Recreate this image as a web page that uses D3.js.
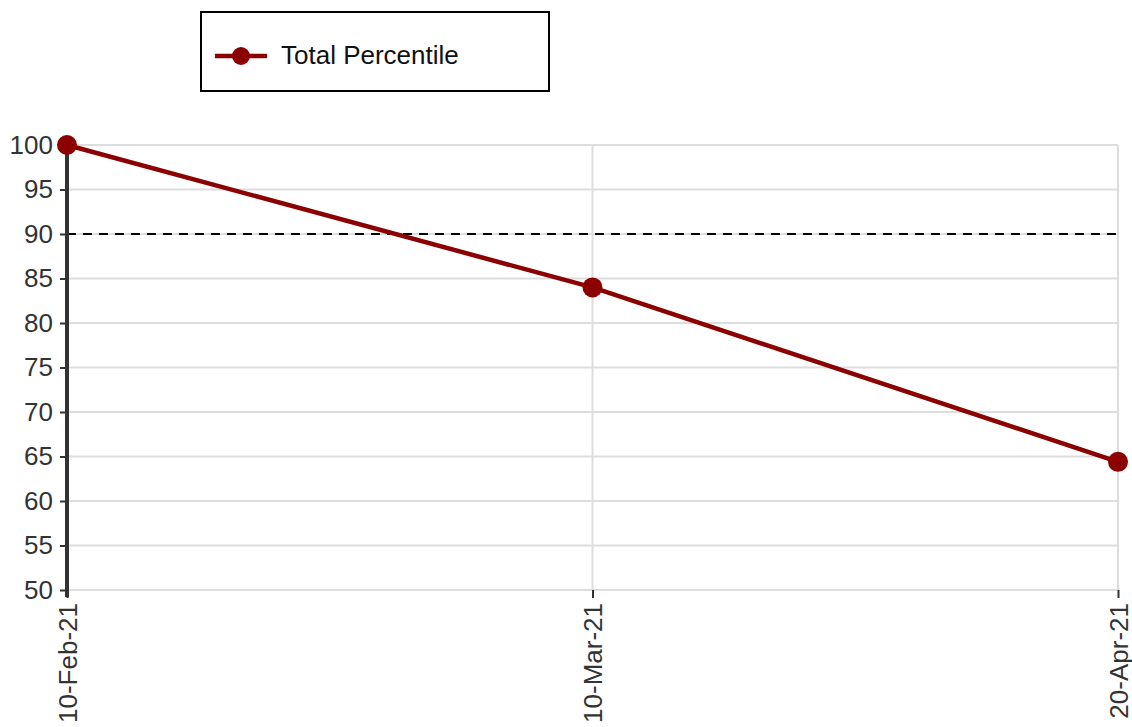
<!DOCTYPE html>
<html>
<head>
<meta charset="utf-8">
<script src="https://cdn.jsdelivr.net/npm/d3@7"></script>
<style>
  html, body { margin: 0; padding: 0; background: #fff; }
  svg { display: block; font-family: "Liberation Sans", Arial, sans-serif; }
</style>
</head>
<body>
<svg id="chart" width="1132" height="727"></svg>
<script>
const categories = ["10-Feb-21", "10-Mar-21", "20-Apr-21"];
const totalPercentile = [100, 84, 64.4];
const threshold = 90;
const yTicks = [50, 55, 60, 65, 70, 75, 80, 85, 90, 95, 100];
const seriesName = "Total Percentile";

(function () {
const svg = d3.select("#chart");
const mLeft = 67, mRight = 1118, mTop = 145, mBottom = 590;
const color = "#8B0000";
const fs = 26;

const x = d3.scalePoint().domain(categories).range([mLeft, mRight]).padding(0);
const y = d3.scaleLinear().domain([50, 100]).range([mBottom, mTop]);

// horizontal grid
svg.append("g").selectAll("line").data(yTicks).join("line")
  .attr("x1", mLeft).attr("x2", mRight)
  .attr("y1", d => y(d)).attr("y2", d => y(d))
  .attr("stroke", "#dddddd").attr("stroke-width", 2);

// vertical grid
svg.append("g").selectAll("line").data(categories).join("line")
  .attr("x1", d => x(d)).attr("x2", d => x(d))
  .attr("y1", mTop).attr("y2", mBottom)
  .attr("stroke", "#dddddd").attr("stroke-width", 2);

// x axis (ticks and rotated labels, no domain line)
const xAxis = svg.append("g").attr("transform", `translate(0,${mBottom})`)
  .call(d3.axisBottom(x).tickSize(8).tickSizeOuter(0));
xAxis.select(".domain").remove();
xAxis.selectAll(".tick line").attr("stroke", "#333").attr("stroke-width", 2);
xAxis.selectAll(".tick text")
  .attr("font-size", fs).attr("fill", "#333")
  .attr("font-family", "Liberation Sans, Arial, sans-serif")
  .attr("text-anchor", "end")
  .attr("transform", "rotate(-90)")
  .attr("x", -13).attr("y", 0).attr("dy", "0.35em");

// threshold dashed line
svg.append("line")
  .attr("x1", mLeft).attr("x2", mRight)
  .attr("y1", y(threshold)).attr("y2", y(threshold))
  .attr("stroke", "#000").attr("stroke-width", 2)
  .attr("stroke-dasharray", "9,7");

// y axis
const yAxis = svg.append("g").attr("transform", `translate(${mLeft},0)`)
  .call(d3.axisLeft(y).tickValues(yTicks).tickSize(7).tickSizeOuter(0).tickPadding(7));
yAxis.select(".domain").remove();
yAxis.selectAll(".tick line").attr("stroke", "#333").attr("stroke-width", 2);
yAxis.selectAll(".tick text")
  .attr("font-size", fs).attr("fill", "#333")
  .attr("font-family", "Liberation Sans, Arial, sans-serif");
svg.append("line")
  .attr("x1", mLeft).attr("x2", mLeft)
  .attr("y1", mTop).attr("y2", mBottom + 7)
  .attr("stroke", "#333").attr("stroke-width", 4);

// series line
const line = d3.line().x((d, i) => x(categories[i])).y(d => y(d));
svg.append("path").datum(totalPercentile)
  .attr("d", line).attr("fill", "none")
  .attr("stroke", color).attr("stroke-width", 4.5);
svg.append("g").selectAll("circle").data(totalPercentile).join("circle")
  .attr("cx", (d, i) => x(categories[i])).attr("cy", d => y(d))
  .attr("r", 10).attr("fill", color);

// legend
const lg = svg.append("g");
lg.append("rect").attr("x", 201).attr("y", 12).attr("width", 348).attr("height", 79)
  .attr("fill", "#fff").attr("stroke", "#000").attr("stroke-width", 2);
lg.append("line").attr("x1", 215).attr("x2", 267).attr("y1", 56).attr("y2", 56)
  .attr("stroke", color).attr("stroke-width", 4.5);
lg.append("circle").attr("cx", 241).attr("cy", 56).attr("r", 9).attr("fill", color);
lg.append("text").attr("x", 281).attr("y", 64).attr("font-size", fs).attr("fill", "#111")
  .text(seriesName);
})();
</script>
</body>
</html>
